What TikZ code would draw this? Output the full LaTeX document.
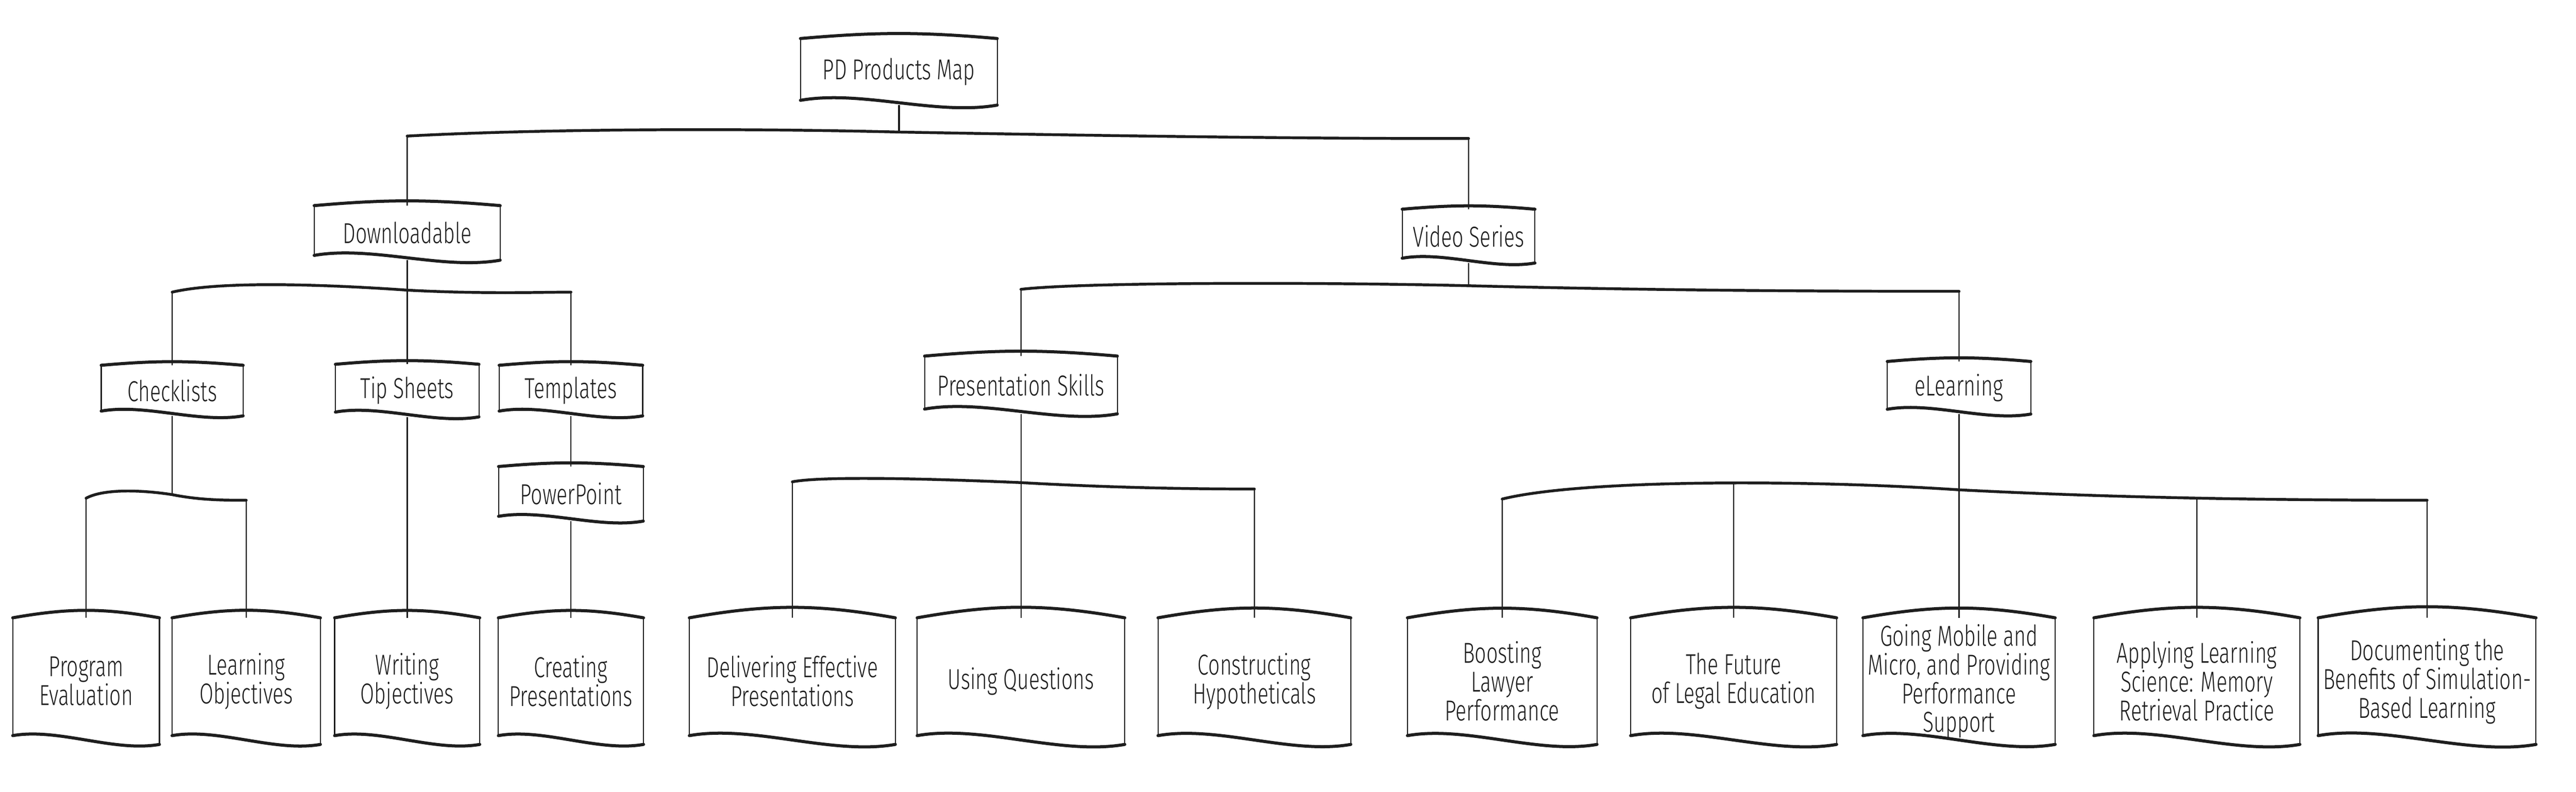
\documentclass[tikz,border=0pt]{standalone}
\usepackage{fontspec}
\setmainfont{Fira Sans Light}[FakeStretch=0.7]
\usepackage{tikz}
\usetikzlibrary{positioning}
\definecolor{ink}{HTML}{1E1E1E}
\tikzstyle{rim} = [draw=ink, line width=2.2pt, line cap=round]
\tikzstyle{side} = [draw=ink, line width=0.8pt]
\tikzstyle{stem} = [draw=ink, line width=0.85pt]
\tikzstyle{bar} = [draw=ink, line width=2pt, line cap=round]
\tikzstyle{hub} = [rectangle, minimum height=1.3cm, text centered, align=center, text=ink, font={\fontsize{20.5pt}{20.5pt}\selectfont},
  append after command={
    (\tikzlastnode.north west) edge[side] ([yshift=0.12cm]\tikzlastnode.south west)
    (\tikzlastnode.north east) edge[side] (\tikzlastnode.south east)
    (\tikzlastnode.north west) edge[rim, bend left=5] (\tikzlastnode.north east)
    ([yshift=0.12cm]\tikzlastnode.south west) edge[rim, out=10, in=190, looseness=0.8] (\tikzlastnode.south east)}]
\tikzstyle{leaf} = [rectangle, minimum height=3.15cm, text centered, align=center, text=ink, font={\fontsize{20.5pt}{20.5pt}\selectfont},
  append after command={
    (\tikzlastnode.north west) edge[side] ([yshift=0.22cm]\tikzlastnode.south west)
    (\tikzlastnode.north east) edge[side] (\tikzlastnode.south east)
    (\tikzlastnode.north west) edge[rim, bend left=10] (\tikzlastnode.north east)
    ([yshift=0.22cm]\tikzlastnode.south west) edge[rim, out=10, in=190, looseness=0.8] (\tikzlastnode.south east)}]

\begin{document}
\begin{tikzpicture}[node distance=1cm]
\useasboundingbox (0,0) rectangle (64.34,-19.78);
\node (root) [hub, minimum width=4.9cm, minimum height=1.65cm] at (22.45,-1.795) {PD Products Map};
\node (dl) [hub, minimum width=4.63cm, minimum height=1.35cm, below of=root, xshift=-12.28cm, yshift=-3.025cm] {Downloadable};
\node (video) [hub, minimum width=3.3cm, minimum height=1.33cm, below of=root, xshift=14.23cm, yshift=-3.105cm] {Video Series};
\node (tips) [hub, minimum width=3.57cm, below of=dl, yshift=-2.94cm] {Tip Sheets};
\node (chk) [hub, minimum width=3.53cm, minimum height=1.25cm, left of=tips, xshift=-4.87cm] {Checklists};
\node (tmpl) [hub, minimum width=3.57cm, minimum height=1.25cm, right of=tips, xshift=3.09cm] {Templates};
\node (ppt) [hub, minimum width=3.6cm, minimum height=1.35cm, below of=tmpl, yshift=-1.58cm] {PowerPoint};
\node (pres) [hub, minimum width=4.8cm, minimum height=1.43cm, below of=video, xshift=-11.18cm, yshift=-2.72cm] {Presentation Skills};
\node (elrn) [hub, minimum width=3.57cm, below of=video, xshift=12.25cm, yshift=-2.79cm] {eLearning};

\node (pe) [leaf, minimum width=3.65cm, below of=chk, xshift=-2.15cm, yshift=-6.26cm] {Program\\Evaluation};
\node (lo) [leaf, minimum width=3.69cm, right of=pe, xshift=3cm] {Learning\\Objectives};
\node (wo) [leaf, minimum width=3.61cm, below of=tips, yshift=-6.26cm] {Writing\\Objectives};
\node (cp) [leaf, minimum width=3.61cm, below of=ppt, yshift=-3.68cm] {Creating\\Presentations};
\node (dep) [leaf, minimum width=5.13cm, below of=pres, xshift=-5.71cm, yshift=-6.4cm] {Delivering Effective\\Presentations};
\node (uq) [leaf, minimum width=5.17cm, below of=pres, yshift=-6.4cm] {Using Questions};
\node (ch) [leaf, minimum width=4.8cm, below of=pres, xshift=5.83cm, yshift=-6.4cm] {Constructing\\Hypotheticals};
\node (blp) [leaf, minimum width=4.72cm, below of=elrn, xshift=-11.41cm, yshift=-6.33cm] {Boosting\\Lawyer\\Performance};
\node (fle) [leaf, minimum width=5.13cm, below of=elrn, xshift=-5.63cm, yshift=-6.33cm] {The Future\\of Legal Education};
\node (gm) [leaf, minimum width=4.72cm, below of=elrn, yshift=-6.33cm] {Going Mobile and\\Micro, and Providing\\Performance\\Support};
\node (als) [leaf, minimum width=5.13cm, below of=elrn, xshift=5.94cm, yshift=-6.33cm] {Applying Learning\\Science: Memory\\Retrieval Practice};
\node (db) [leaf, minimum width=5.13cm, below of=elrn, xshift=11.69cm, yshift=-6.33cm] {Documenting the\\Benefits of Simulation-\\Based Learning};

\coordinate (j0) at (22.45,-3.3);
\coordinate (j0l) at (10.17,-3.4);
\coordinate (j0r) at (36.68,-3.46);
\coordinate (j1) at (10.17,-7.25);
\coordinate (j1l) at (4.3,-7.3);
\coordinate (j1r) at (14.26,-7.3);
\coordinate (j2) at (4.3,-12.36);
\coordinate (j2l) at (2.15,-12.45);
\coordinate (j2r) at (6.15,-12.5);
\coordinate (j3) at (36.68,-7.14);
\coordinate (j3l) at (25.5,-7.23);
\coordinate (j3r) at (48.93,-7.28);
\coordinate (j4) at (25.5,-12.06);
\coordinate (j4l) at (19.79,-12.04);
\coordinate (j4r) at (31.33,-12.22);
\coordinate (j5) at (48.93,-12.24);
\coordinate (j5l) at (37.52,-12.47);
\coordinate (j5r) at (60.62,-12.5);
\coordinate (j5a) at (43.3,-12.08);
\coordinate (j5b) at (54.87,-12.45);

\draw [bar](j0l) .. controls (13.5,-3.22) and (18.5,-3.2) .. (j0) .. controls (28,-3.4) and (33,-3.47) .. (j0r);
\draw [bar](j1l) .. controls (5.5,-7.02) and (8,-7.1) .. (j1) .. controls (12,-7.35) and (13.5,-7.3) .. (j1r);
\draw [bar](j2l) .. controls (2.6,-12.2) and (3.6,-12.25) .. (j2) .. controls (5,-12.5) and (5.6,-12.5) .. (j2r);
\draw [bar](j3l) .. controls (27,-7.05) and (33,-7.05) .. (j3) .. controls (41,-7.25) and (45,-7.28) .. (j3r);
\draw [bar](j4l) .. controls (20.5,-11.9) and (23,-11.95) .. (j4) .. controls (28,-12.2) and (30,-12.22) .. (j4r);
\draw [bar](j5l) .. controls (39.5,-11.98) and (45,-11.98) .. (j5) .. controls (53,-12.45) and (57,-12.5) .. (j5r);

\draw [stem, line width=1.4pt](root) -- (j0);
\draw [stem](j0l) -- (dl);
\draw [stem](j0r) -- (video);
\draw [stem](dl) -- (tips);
\draw [stem](j1l) -- (chk);
\draw [stem](j1r) -- (tmpl);
\draw [stem](chk) -- (j2);
\draw [stem](j2l) -- (pe);
\draw [stem](j2r) -- (lo);
\draw [stem](tips) -- (wo);
\draw [stem](tmpl) -- (ppt);
\draw [stem](ppt) -- (cp);
\draw [stem](video) -- (j3);
\draw [stem](j3l) -- (pres);
\draw [stem](j3r) -- (elrn);
\draw [stem](pres) -- (uq);
\draw [stem](j4l) -- (dep);
\draw [stem](j4r) -- (ch);
\draw [stem](elrn) -- (gm);
\draw [stem](j5l) -- (blp);
\draw [stem](j5a) -- (fle);
\draw [stem](j5b) -- (als);
\draw [stem](j5r) -- (db);
\end{tikzpicture}
\end{document}
